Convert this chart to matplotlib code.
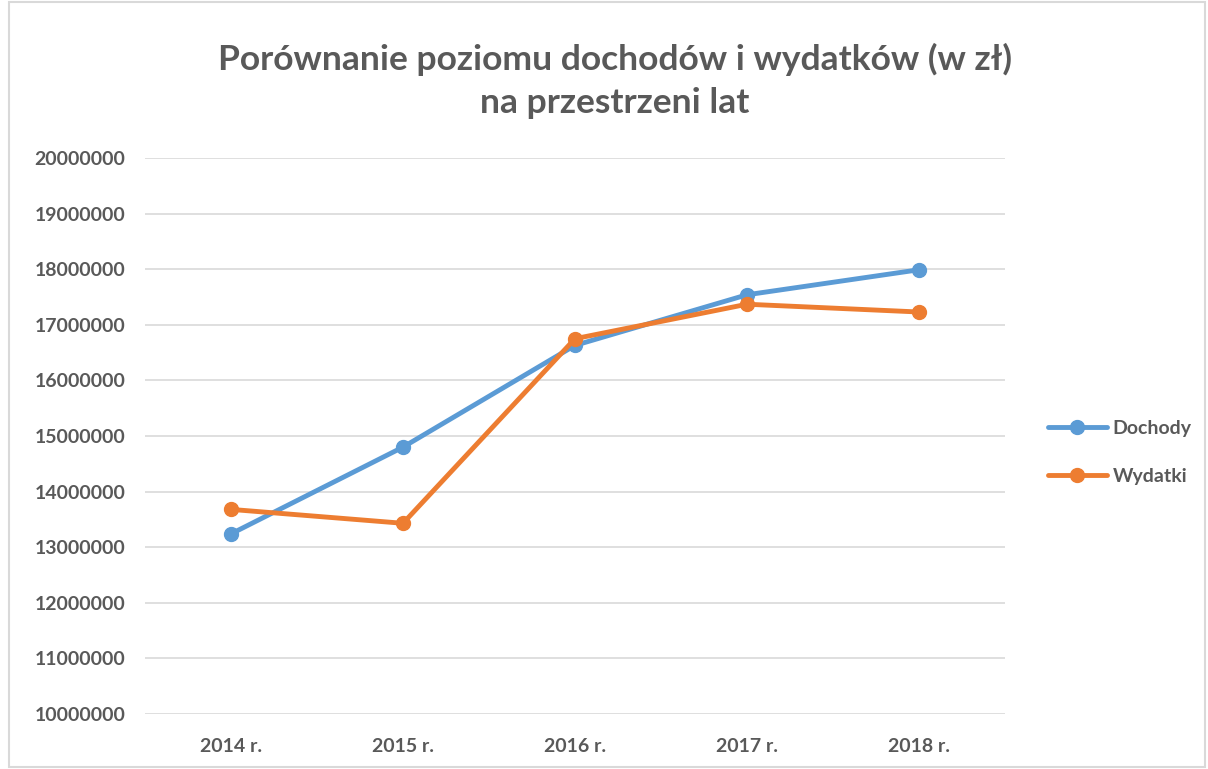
import matplotlib.pyplot as plt
from matplotlib.patches import Rectangle
from matplotlib.ticker import MultipleLocator, FuncFormatter

years = ['2014 r.', '2015 r.', '2016 r.', '2017 r.', '2018 r.']
dochody = [13240000, 14800000, 16630000, 17540000, 17990000]
wydatki = [13680000, 13430000, 16750000, 17370000, 17230000]

plt.rcParams['font.family'] = ['Lato', 'DejaVu Sans']
text_col = '#595959'

fig = plt.figure(figsize=(12.08, 7.69), dpi=100)
ax = fig.add_axes([145 / 1208, 1 - 714 / 769, 860 / 1208, 556 / 769])

x = range(len(years))
ax.plot(x, dochody, color='#5b9bd5', lw=3.5, marker='o', ms=10, label='Dochody',
        solid_capstyle='round')
ax.plot(x, wydatki, color='#ed7d31', lw=3.5, marker='o', ms=10, label='Wydatki',
        solid_capstyle='round')

ax.set_xlim(-0.5, 4.5)
ax.set_ylim(10000000, 20000000)
ax.yaxis.set_major_locator(MultipleLocator(1000000))
ax.yaxis.set_major_formatter(FuncFormatter(lambda v, p: f'{int(v)}'))
ax.set_xticks(list(x))
ax.set_xticklabels(years)
ax.grid(axis='y', color='#d9d9d9', lw=1.2)
ax.set_axisbelow(True)
for s in ax.spines.values():
    s.set_visible(False)
ax.tick_params(length=0, labelsize=14, labelcolor=text_col, pad=17)
ax.tick_params(axis='y', pad=14)
for lab in ax.get_xticklabels() + ax.get_yticklabels():
    lab.set_fontweight('bold')

fig.text(615 / 1208, 1 - 81 / 769,
         'Porównanie poziomu dochodów i wydatków (w zł)\nna przestrzeni lat',
         ha='center', va='center', fontsize=25.5, fontweight='bold', color=text_col,
         linespacing=1.4)

leg = ax.legend(loc='center left', bbox_to_anchor=(1.03, 0.47), frameon=False,
                fontsize=14, handlelength=3, labelspacing=1.6, handletextpad=0.3)
for t in leg.get_texts():
    t.set_color(text_col)
    t.set_fontweight('bold')

fig.patches.append(Rectangle((9 / 1208, 0.002), 1 - 12 / 1208, 0.995, transform=fig.transFigure,
                             fill=False, edgecolor='#d9d9d9', lw=1.5))

fig.savefig('out.png', dpi=100)
